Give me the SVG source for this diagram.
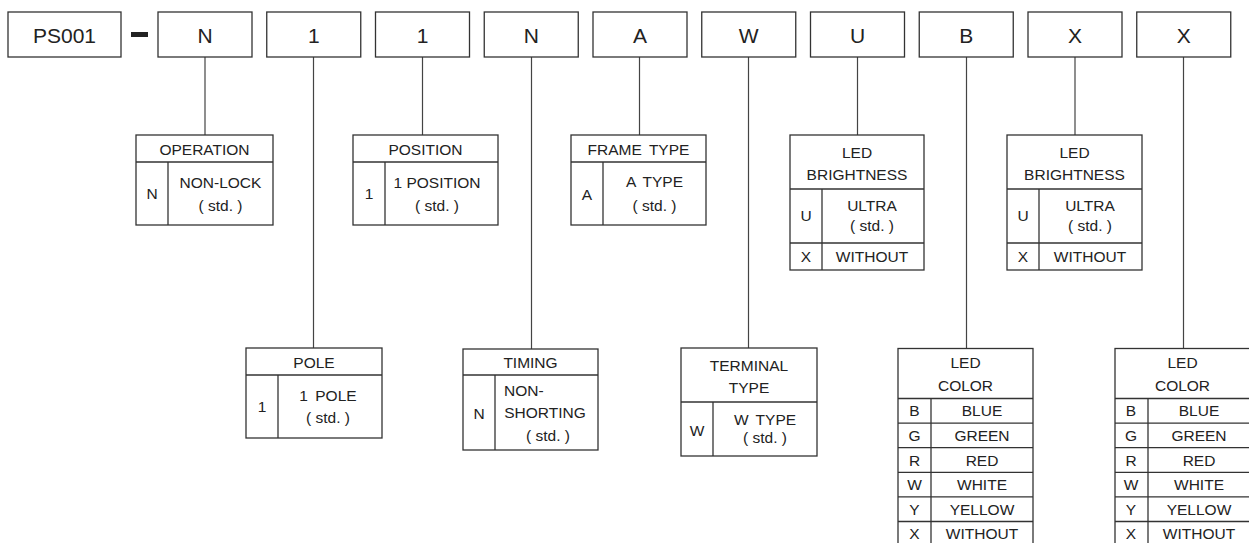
<svg xmlns="http://www.w3.org/2000/svg" width="1249" height="543" viewBox="0 0 1249 543">
<style>
.bx{fill:#fff;stroke:#333;stroke-width:1.3}
.ln{stroke:#333;stroke-width:1.3;fill:none}
.cn{stroke:#444;stroke-width:1.2;fill:none}
text{font-family:"Liberation Sans",Arial,Helvetica,sans-serif;fill:#222;text-anchor:middle}
.big{font-size:21px}
.t{font-size:15.5px}
.ws{word-spacing:3px}
.st{text-anchor:start}
</style>
<rect width="1249" height="543" fill="#fff"/>

<g id="connectors">
<line class="cn" x1="205" y1="57" x2="205" y2="135"/>
<line class="cn" x1="313.5" y1="57" x2="313.5" y2="348"/>
<line class="cn" x1="422.5" y1="57" x2="422.5" y2="135"/>
<line class="cn" x1="531.5" y1="57" x2="531.5" y2="349"/>
<line class="cn" x1="639.5" y1="57" x2="639.5" y2="135"/>
<line class="cn" x1="748.5" y1="57" x2="748.5" y2="348"/>
<line class="cn" x1="857.5" y1="57" x2="857.5" y2="135"/>
<line class="cn" x1="966.5" y1="57" x2="966.5" y2="348.5"/>
<line class="cn" x1="1075" y1="57" x2="1075" y2="135"/>
<line class="cn" x1="1183.5" y1="57" x2="1183.5" y2="348.5"/>
</g>

<g id="code-ps001"><rect class="bx" x="8" y="12" width="113" height="45"/><text class="big" x="64.5" y="43">PS001</text></g>
<g id="dash"><rect x="131" y="32" width="17" height="5" fill="#222"/></g>
<g id="code-n1"><rect class="bx" x="158" y="12" width="94" height="45"/><text class="big" x="205" y="43">N</text></g>
<g id="code-1a"><rect class="bx" x="266.75" y="12" width="94" height="45"/><text class="big" x="313.75" y="43">1</text></g>
<g id="code-1b"><rect class="bx" x="375.5" y="12" width="94" height="45"/><text class="big" x="422.5" y="43">1</text></g>
<g id="code-n2"><rect class="bx" x="484.25" y="12" width="94" height="45"/><text class="big" x="531.25" y="43">N</text></g>
<g id="code-a"><rect class="bx" x="593" y="12" width="94" height="45"/><text class="big" x="640" y="43">A</text></g>
<g id="code-w"><rect class="bx" x="701.75" y="12" width="94" height="45"/><text class="big" x="748.75" y="43">W</text></g>
<g id="code-u"><rect class="bx" x="810.5" y="12" width="94" height="45"/><text class="big" x="857.5" y="43">U</text></g>
<g id="code-b"><rect class="bx" x="919.25" y="12" width="94" height="45"/><text class="big" x="966.25" y="43">B</text></g>
<g id="code-x1"><rect class="bx" x="1028" y="12" width="94" height="45"/><text class="big" x="1075" y="43">X</text></g>
<g id="code-x2"><rect class="bx" x="1136.75" y="12" width="94" height="45"/><text class="big" x="1183.75" y="43">X</text></g>

<g id="tbl-operation">
<rect class="bx" x="136" y="135" width="137" height="90"/>
<line class="ln" x1="136" y1="162" x2="273" y2="162"/>
<line class="ln" x1="168" y1="162" x2="168" y2="225"/>
<text class="t" x="204.5" y="155">OPERATION</text>
<text class="t" x="152" y="199">N</text>
<text class="t" x="220.5" y="187.5">NON-LOCK</text>
<text class="t" x="220.5" y="211">( std. )</text>
</g>

<g id="tbl-position">
<rect class="bx" x="353" y="135" width="145" height="90"/>
<line class="ln" x1="353" y1="162" x2="498" y2="162"/>
<line class="ln" x1="385" y1="162" x2="385" y2="225"/>
<text class="t" x="425.5" y="155">POSITION</text>
<text class="t" x="369" y="199">1</text>
<text class="t" x="437" y="187.5">1 POSITION</text>
<text class="t" x="437" y="211">( std. )</text>
</g>

<g id="tbl-frame">
<rect class="bx" x="571" y="135" width="135" height="90"/>
<line class="ln" x1="571" y1="162" x2="706" y2="162"/>
<line class="ln" x1="603" y1="162" x2="603" y2="225"/>
<text class="t ws" x="638.5" y="155">FRAME TYPE</text>
<text class="t" x="587" y="200">A</text>
<text class="t ws" x="654.5" y="187">A TYPE</text>
<text class="t" x="654.5" y="211">( std. )</text>
</g>

<g id="tbl-brightness1">
<rect class="bx" x="790" y="135" width="134" height="135"/>
<line class="ln" x1="790" y1="189" x2="924" y2="189"/>
<line class="ln" x1="790" y1="243" x2="924" y2="243"/>
<line class="ln" x1="822" y1="189" x2="822" y2="270"/>
<text class="t" x="857" y="158">LED</text>
<text class="t" x="857" y="180">BRIGHTNESS</text>
<text class="t" x="806" y="221">U</text>
<text class="t" x="872" y="210.5">ULTRA</text>
<text class="t" x="872" y="231">( std. )</text>
<text class="t" x="806" y="262">X</text>
<text class="t" x="872" y="262">WITHOUT</text>
</g>

<g id="tbl-brightness2">
<rect class="bx" x="1007" y="135" width="135" height="135"/>
<line class="ln" x1="1007" y1="189" x2="1142" y2="189"/>
<line class="ln" x1="1007" y1="243" x2="1142" y2="243"/>
<line class="ln" x1="1039" y1="189" x2="1039" y2="270"/>
<text class="t" x="1074.5" y="158">LED</text>
<text class="t" x="1074.5" y="180">BRIGHTNESS</text>
<text class="t" x="1023" y="221">U</text>
<text class="t" x="1090" y="210.5">ULTRA</text>
<text class="t" x="1090" y="231">( std. )</text>
<text class="t" x="1023" y="262">X</text>
<text class="t" x="1090" y="262">WITHOUT</text>
</g>

<g id="tbl-pole">
<rect class="bx" x="246" y="348" width="136" height="90"/>
<line class="ln" x1="246" y1="375" x2="382" y2="375"/>
<line class="ln" x1="278" y1="375" x2="278" y2="438"/>
<text class="t" x="314" y="367.5">POLE</text>
<text class="t" x="262" y="411.5">1</text>
<text class="t ws" x="328" y="400.5">1 POLE</text>
<text class="t" x="328" y="422.5">( std. )</text>
</g>

<g id="tbl-timing">
<rect class="bx" x="463" y="349" width="135" height="101"/>
<line class="ln" x1="463" y1="375" x2="598" y2="375"/>
<line class="ln" x1="495" y1="375" x2="495" y2="450"/>
<text class="t" x="530.5" y="368">TIMING</text>
<text class="t" x="479" y="418.5">N</text>
<text class="t st" x="504" y="395.5">NON-</text>
<text class="t" x="545" y="417.5">SHORTING</text>
<text class="t" x="548" y="440.5">( std. )</text>
</g>

<g id="tbl-terminal">
<rect class="bx" x="681" y="348" width="136" height="108"/>
<line class="ln" x1="681" y1="402" x2="817" y2="402"/>
<line class="ln" x1="713" y1="402" x2="713" y2="456"/>
<text class="t" x="749" y="370.5">TERMINAL</text>
<text class="t" x="749" y="393">TYPE</text>
<text class="t" x="697" y="435.5">W</text>
<text class="t ws" x="765" y="425">W TYPE</text>
<text class="t" x="765" y="442.5">( std. )</text>
</g>

<g id="tbl-color1">
<rect class="bx" x="898" y="348.5" width="135" height="200"/>
<line class="ln" x1="898" y1="398.5" x2="1033" y2="398.5"/>
<line class="ln" x1="898" y1="423.1" x2="1033" y2="423.1"/>
<line class="ln" x1="898" y1="447.7" x2="1033" y2="447.7"/>
<line class="ln" x1="898" y1="472.3" x2="1033" y2="472.3"/>
<line class="ln" x1="898" y1="496.9" x2="1033" y2="496.9"/>
<line class="ln" x1="898" y1="521.5" x2="1033" y2="521.5"/>
<line class="ln" x1="931" y1="398.5" x2="931" y2="548.5"/>
<text class="t" x="965.5" y="368">LED</text>
<text class="t" x="965.5" y="391">COLOR</text>
<text class="t" x="914.5" y="416.3">B</text><text class="t" x="982" y="416.3">BLUE</text>
<text class="t" x="914.5" y="440.9">G</text><text class="t" x="982" y="440.9">GREEN</text>
<text class="t" x="914.5" y="465.5">R</text><text class="t" x="982" y="465.5">RED</text>
<text class="t" x="914.5" y="490.1">W</text><text class="t" x="982" y="490.1">WHITE</text>
<text class="t" x="914.5" y="514.7">Y</text><text class="t" x="982" y="514.7">YELLOW</text>
<text class="t" x="914.5" y="539.3">X</text><text class="t" x="982" y="539.3">WITHOUT</text>
</g>

<g id="tbl-color2">
<rect class="bx" x="1115" y="348.5" width="135" height="200"/>
<line class="ln" x1="1115" y1="398.5" x2="1250" y2="398.5"/>
<line class="ln" x1="1115" y1="423.1" x2="1250" y2="423.1"/>
<line class="ln" x1="1115" y1="447.7" x2="1250" y2="447.7"/>
<line class="ln" x1="1115" y1="472.3" x2="1250" y2="472.3"/>
<line class="ln" x1="1115" y1="496.9" x2="1250" y2="496.9"/>
<line class="ln" x1="1115" y1="521.5" x2="1250" y2="521.5"/>
<line class="ln" x1="1148" y1="398.5" x2="1148" y2="548.5"/>
<text class="t" x="1182.5" y="368">LED</text>
<text class="t" x="1182.5" y="391">COLOR</text>
<text class="t" x="1131" y="416.3">B</text><text class="t" x="1199" y="416.3">BLUE</text>
<text class="t" x="1131" y="440.9">G</text><text class="t" x="1199" y="440.9">GREEN</text>
<text class="t" x="1131" y="465.5">R</text><text class="t" x="1199" y="465.5">RED</text>
<text class="t" x="1131" y="490.1">W</text><text class="t" x="1199" y="490.1">WHITE</text>
<text class="t" x="1131" y="514.7">Y</text><text class="t" x="1199" y="514.7">YELLOW</text>
<text class="t" x="1131" y="539.3">X</text><text class="t" x="1199" y="539.3">WITHOUT</text>
</g>
</svg>
